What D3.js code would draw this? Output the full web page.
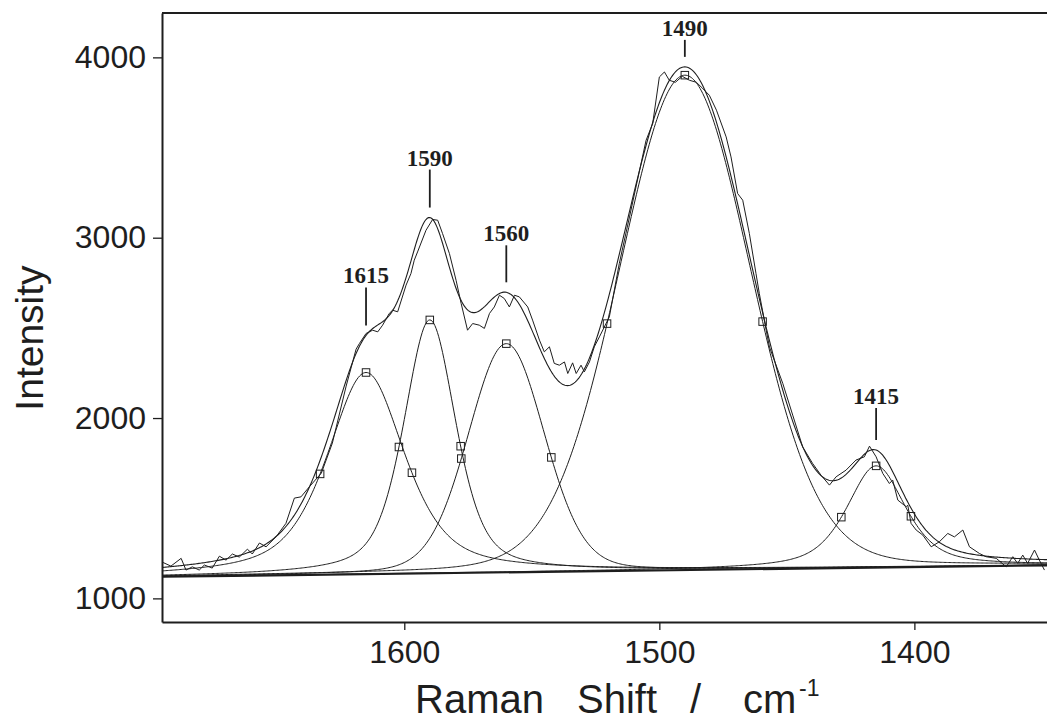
<!DOCTYPE html>
<html>
<head>
<meta charset="utf-8">
<script src="https://cdn.jsdelivr.net/npm/d3@7"></script>
<style>
  html, body { margin: 0; padding: 0; background: #fff; }
  svg { display: block; }
</style>
</head>
<body>
<svg id="chart" width="1047" height="723"></svg>
<script>
// ---- Band fit parameters (Raman shift in cm-1, intensity in counts) ----
const bandCenters = [1615, 1590, 1560, 1490, 1415];
const bandHeights = [1118, 1405, 1268, 2744, 564];      // peak height above baseline
const bandWidths = [36, 24.2, 35.3, 61, 27.3];          // FWHM
const bandLorentzFraction = [0.6, 0.5, 0.15, 0.1, 0.6]; // pseudo-Voigt mixing

// Linear baseline, given by its two end points [shift, intensity]
const baselineShift = [1695, 1348];
const baselineIntensity = [1120, 1183];

// Measured spectrum
const rawShift = [1694.9,1691.5,1687.5,1685.6,1683.1,1680.4,1678.4,1675.3,1672.5,1669.9,
  1667.4,1664.7,1661.5,1659.6,1656.8,1654.2,1650.3,1646.4,1643.1,1640.5,
  1637.2,1632.5,1628.2,1622.8,1618.9,1617.6,1615,1612.4,1610.4,1608.5,
  1605.9,1604.6,1602.6,1599.3,1597.4,1596.1,1594.8,1591.5,1588.9,1586.9,
  1585,1582.3,1579.7,1577.7,1575.2,1573.2,1570.6,1568.6,1566.6,1564.7,
  1562.7,1560.8,1558.8,1556.8,1554.9,1551.6,1549.7,1547,1545.1,1543.1,
  1541.2,1539.2,1537.2,1535.9,1534,1532.6,1530.7,1529.4,1527.4,1525.5,
  1523.5,1519.6,1515.7,1511.7,1505.2,1502.6,1500,1498,1496.1,1493.7,
  1491,1488.2,1485.5,1483.1,1480.4,1477.6,1473.8,1471.9,1469.3,1467.3,
  1464.7,1462.1,1460.8,1458.1,1456.8,1451.6,1447.7,1443.8,1439.9,1436.6,
  1433.3,1430.7,1426.8,1422.9,1419.6,1417.6,1415,1412.4,1409.8,1408.5,
  1406.5,1403.2,1402.6,1401.3,1399.3,1396.7,1393.4,1390.2,1386.9,1384.3,
  1381,1378.4,1374.5,1371.9,1367.9,1364,1361.4,1359.5,1357.5,1355.6,
  1352.9,1351,1349];
const rawIntensity = [1201,1179,1222,1157,1175,1157,1185,1168,1234,1212,
  1246,1229,1273,1246,1307,1286,1341,1416,1556,1563,
  1619,1695,1861,2177,2382,2413,2469,2487,2478,2515,
  2580,2598,2589,2737,2801,2875,2921,3041,3101,3097,
  3023,2912,2764,2635,2487,2524,2515,2497,2580,2616,
  2681,2663,2616,2681,2672,2616,2543,2432,2367,2395,
  2303,2293,2311,2247,2306,2247,2293,2256,2311,2395,
  2450,2561,2857,3115,3540,3633,3891,3919,3873,3862,
  3895,3873,3862,3829,3790,3707,3559,3448,3245,3208,
  3023,2801,2691,2487,2393,2192,2016,1840,1748,1683,
  1628,1674,1711,1767,1785,1844,1785,1693,1637,1656,
  1545,1508,1517,1416,1379,1351,1286,1314,1360,1341,
  1379,1286,1249,1231,1222,1175,1231,1194,1240,1194,
  1268,1212,1157];

// Axes
const xTicks = [1600, 1500, 1400];
const yTicks = [1000, 2000, 3000, 4000];
const xDomain = [1695, 1348];
const yDomain = [869, 4246];

// ---- Layout ----
const plot = { left: 162, right: 1047, top: 13, bottom: 622 };
const ink = "#1e1e1e";
const svg = d3.select("#chart");

const x = d3.scaleLinear().domain(xDomain).range([plot.left, plot.right]);
const y = d3.scaleLinear().domain(yDomain).range([plot.bottom, plot.top]);

const baseline = d3.scaleLinear().domain(baselineShift).range(baselineIntensity);

function band(i, s) {
  const hw = bandWidths[i] / 2;
  const u = (s - bandCenters[i]) / hw;
  const eta = bandLorentzFraction[i];
  return bandHeights[i] * (eta / (1 + u * u) + (1 - eta) * Math.exp(-Math.LN2 * u * u));
}
function fitSum(s) {
  return baseline(s) + d3.sum(bandCenters, (c, i) => band(i, s));
}

const shifts = d3.range(xDomain[1], xDomain[0] + 0.001, 0.5);

svg.append("defs").append("clipPath").attr("id", "plotClip")
  .append("rect")
  .attr("x", plot.left).attr("y", plot.top)
  .attr("width", plot.right - plot.left).attr("height", plot.bottom - plot.top);

const g = svg.append("g").attr("clip-path", "url(#plotClip)");

const line = d3.line().x(d => x(d[0])).y(d => y(d[1]));

// baseline
g.append("path")
  .datum(xDomain.map(s => [s, baseline(s)]))
  .attr("d", line)
  .attr("fill", "none").attr("stroke", ink).attr("stroke-width", 2.2);

// individual bands
bandCenters.forEach((c, i) => {
  g.append("path")
    .datum(shifts.map(s => [s, baseline(s) + band(i, s)]))
    .attr("d", line)
    .attr("fill", "none").attr("stroke", ink).attr("stroke-width", 1);
});

// envelope of the fit
g.append("path")
  .datum(shifts.map(s => [s, fitSum(s)]))
  .attr("d", line)
  .attr("fill", "none").attr("stroke", ink).attr("stroke-width", 1.1);

// measured spectrum
g.append("path")
  .datum(rawShift.map((s, i) => [s, rawIntensity[i]]))
  .attr("d", line)
  .attr("fill", "none").attr("stroke", ink).attr("stroke-width", 1);

// band markers: peak and half-height points
const markers = [];
bandCenters.forEach((c, i) => {
  const hw = bandWidths[i] / 2;
  [c - hw, c, c + hw].forEach(s => markers.push([s, baseline(s) + band(i, s)]));
});
const sq = 7.5;
g.selectAll("rect.marker").data(markers).join("rect")
  .attr("class", "marker")
  .attr("x", d => x(d[0]) - sq / 2)
  .attr("y", d => y(d[1]) - sq / 2)
  .attr("width", sq).attr("height", sq)
  .attr("fill", "none").attr("stroke", ink).attr("stroke-width", 1);

// ---- Frame and axes ----
const axisFont = "'Liberation Sans', Arial, Helvetica, sans-serif";

svg.append("line")
  .attr("x1", plot.left).attr("x2", plot.right)
  .attr("y1", plot.top).attr("y2", plot.top)
  .attr("stroke", ink).attr("stroke-width", 2);

const xAxis = svg.append("g")
  .attr("transform", `translate(0,${plot.bottom})`)
  .call(d3.axisBottom(x).tickValues(xTicks).tickFormat(d3.format("d"))
    .tickSize(8).tickSizeOuter(0).tickPadding(10));
const yAxis = svg.append("g")
  .attr("transform", `translate(${plot.left},0)`)
  .call(d3.axisLeft(y).tickValues(yTicks).tickFormat(d3.format("d"))
    .tickSize(9).tickSizeOuter(0).tickPadding(7));

[xAxis, yAxis].forEach(a => {
  a.select(".domain").attr("stroke", ink).attr("stroke-width", 2);
  a.selectAll(".tick line").attr("stroke", ink).attr("stroke-width", 1.3);
  a.selectAll(".tick text")
    .attr("fill", ink)
    .style("font-family", axisFont)
    .style("font-size", "32px");
});

// axis titles
svg.append("text")
  .attr("transform", "translate(43,338) rotate(-90)")
  .attr("text-anchor", "middle")
  .attr("fill", ink)
  .style("font-family", axisFont).style("font-size", "39px")
  .text("Intensity");

const xt = svg.append("text")
  .attr("y", 713)
  .attr("fill", ink)
  .style("font-family", axisFont).style("font-size", "40px");
xt.append("tspan").attr("x", 415).text("Raman");
xt.append("tspan").attr("x", 577).text("Shift");
xt.append("tspan").attr("x", 690).text("/");
xt.append("tspan").attr("x", 743).text("cm");
xt.append("tspan").attr("x", 799).attr("y", 696).style("font-size", "23px").text("-1");

// ---- Band labels ----
const stemLengths = [38, 38, 37, 17, 32];
const labelFont = "'Liberation Serif', 'Times New Roman', Times, serif";
bandCenters.forEach((c, i) => {
  const px = x(c);
  const bottom = y(fitSum(c)) - 10;
  const top = bottom - stemLengths[i];
  svg.append("line")
    .attr("x1", px).attr("x2", px).attr("y1", top).attr("y2", bottom)
    .attr("stroke", ink).attr("stroke-width", 1.8);
  svg.append("text")
    .attr("x", px).attr("y", top - 4)
    .attr("text-anchor", "middle")
    .attr("fill", ink)
    .style("font-family", labelFont).style("font-weight", "bold").style("font-size", "23px")
    .text(String(c));
});
</script>
</body>
</html>
